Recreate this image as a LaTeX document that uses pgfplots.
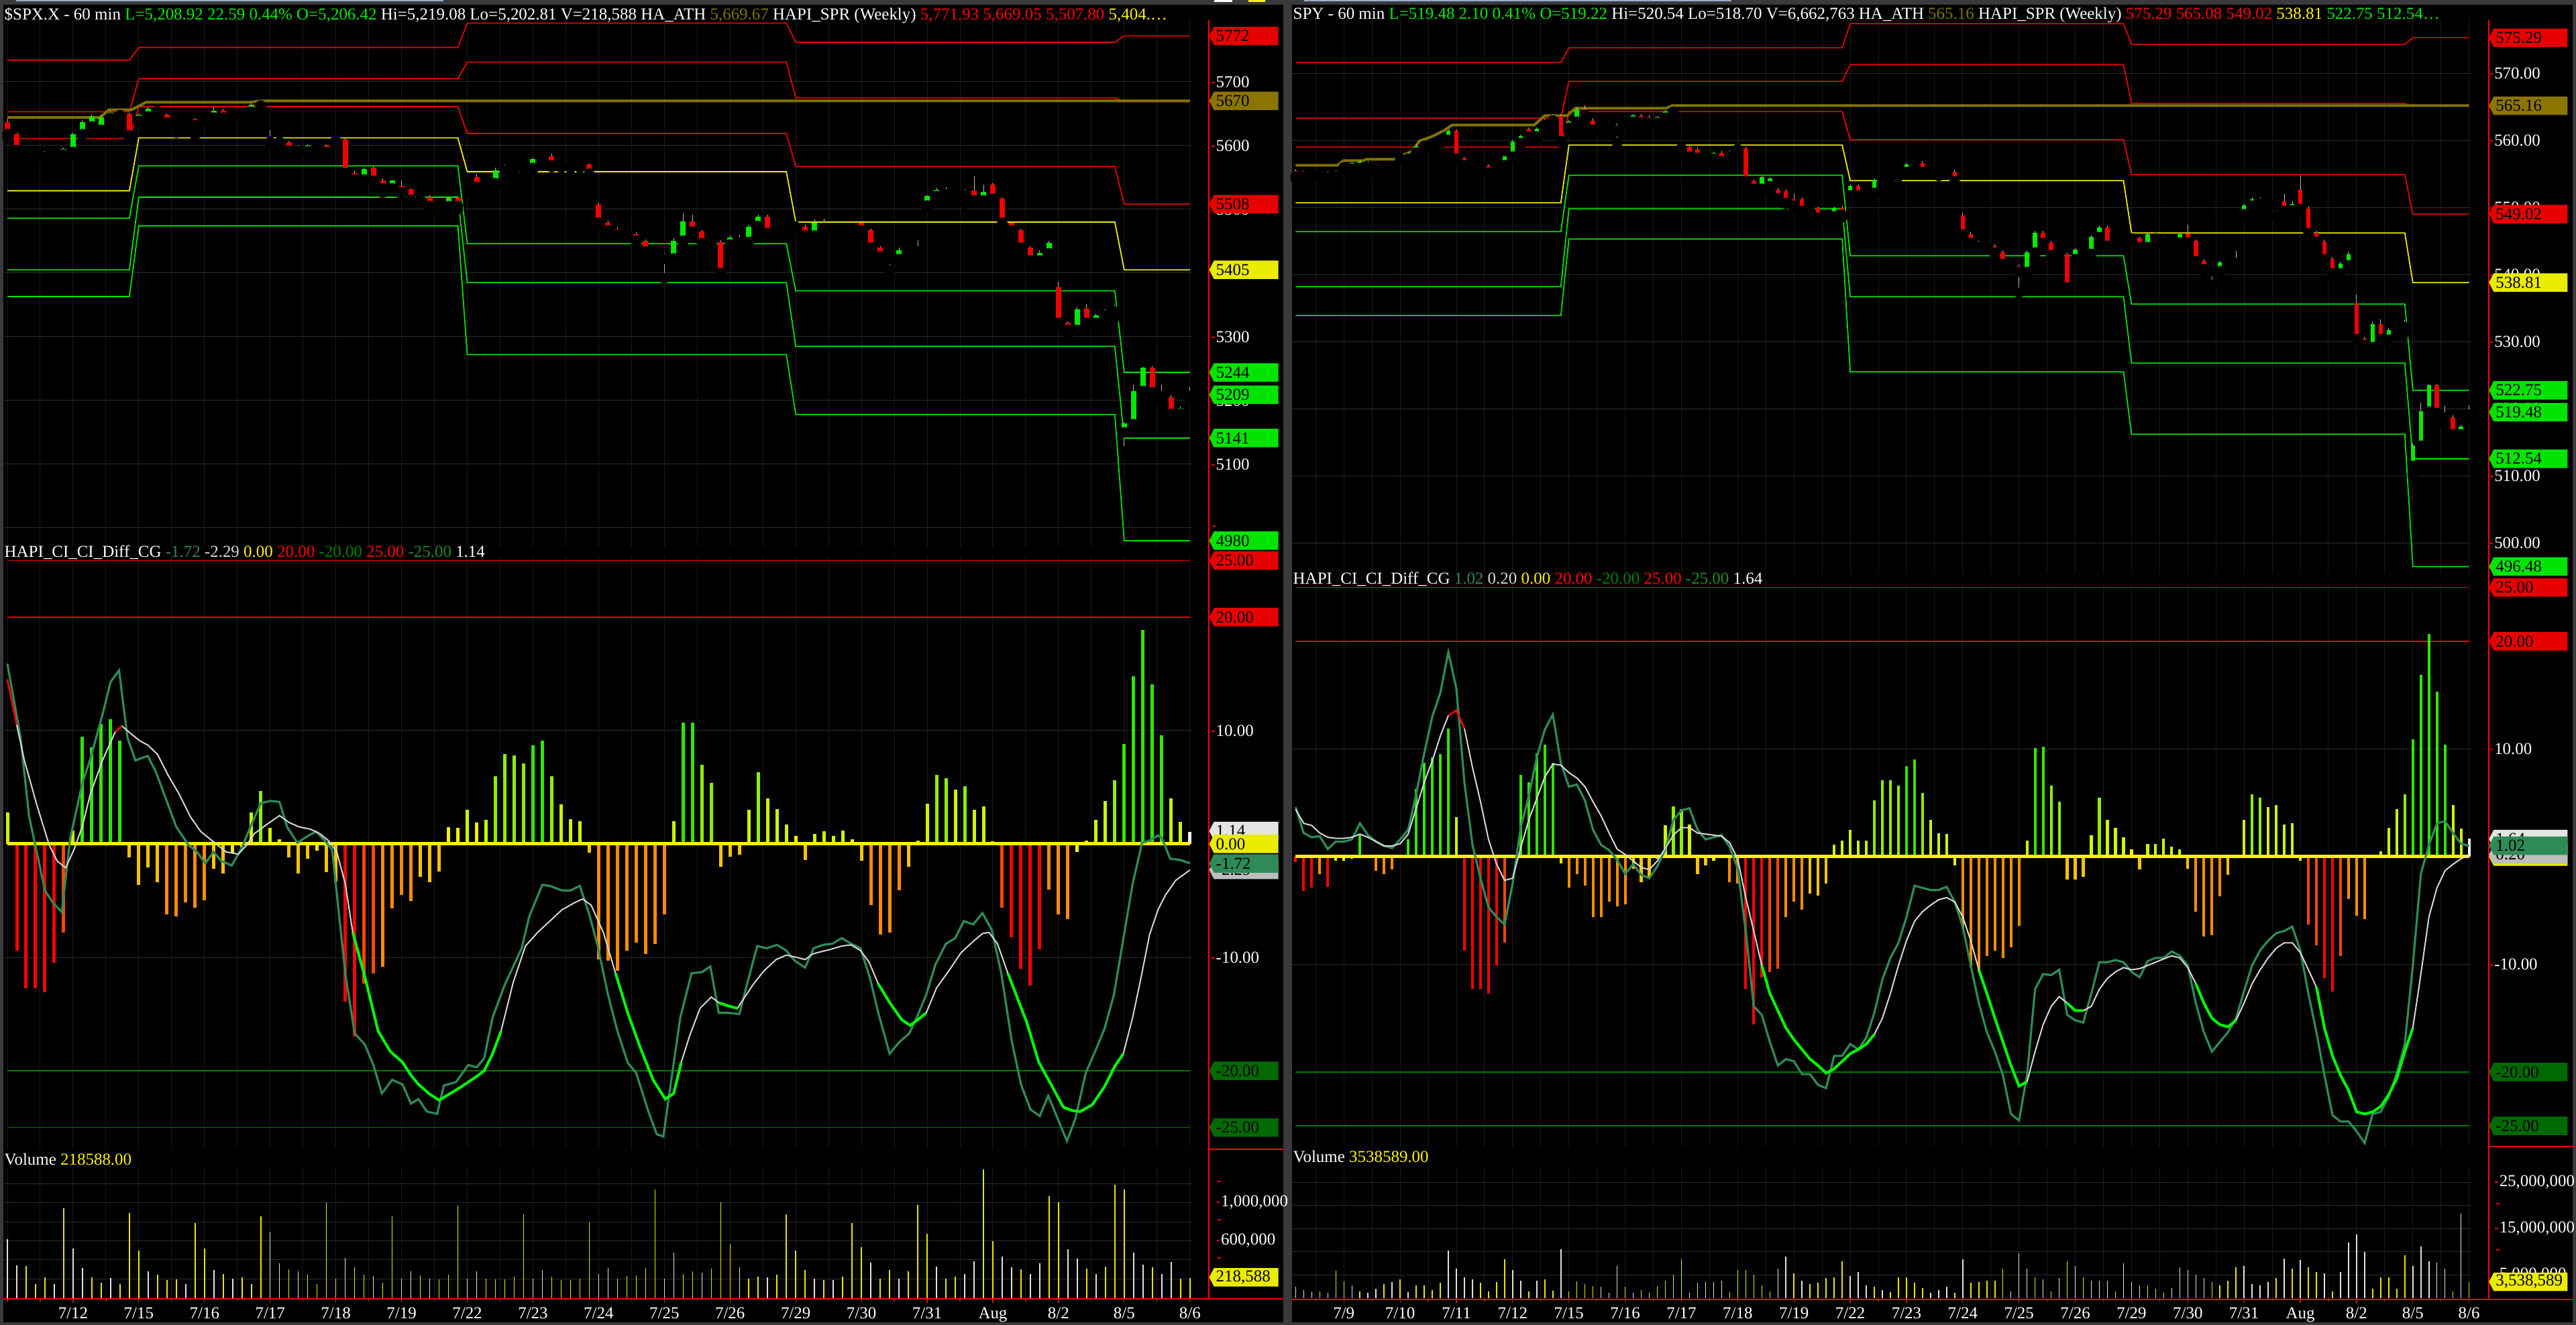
\documentclass[border=0pt]{standalone}
\usepackage{fontspec}
\setmainfont{Liberation Serif}
\usepackage{pgfplots}
\usepackage{pgfplotstable}
\pgfplotsset{compat=1.18}
\usetikzlibrary{shapes.symbols}

\definecolor{frame}{RGB}{58,58,60}
\definecolor{upc}{RGB}{0,235,0}
\definecolor{dnc}{RGB}{240,0,0}
\definecolor{wick}{RGB}{185,185,185}
\definecolor{olv}{RGB}{128,116,0}
\definecolor{olvbox}{RGB}{139,117,0}
\definecolor{lvred}{RGB}{230,0,0}
\definecolor{lvyel}{RGB}{235,235,0}
\definecolor{lvgrn}{RGB}{0,225,0}
\definecolor{ci}{RGB}{46,139,87}
\definecolor{cism}{RGB}{215,215,215}
\definecolor{hot}{RGB}{0,255,0}
\definecolor{h1}{RGB}{255,0,0}
\definecolor{h2}{RGB}{255,70,0}
\definecolor{h3}{RGB}{255,140,0}
\definecolor{h4}{RGB}{255,195,0}
\definecolor{h5}{RGB}{240,240,0}
\definecolor{h6}{RGB}{205,245,0}
\definecolor{h7}{RGB}{140,240,0}
\definecolor{h8}{RGB}{50,230,0}
\definecolor{h9}{RGB}{240,240,240}
\definecolor{vy}{RGB}{230,230,0}
\definecolor{vw}{RGB}{225,225,225}
\definecolor{gridc}{RGB}{44,44,44}
\definecolor{vgrid}{RGB}{26,26,26}
\definecolor{dkg}{RGB}{0,120,0}
\definecolor{boxdg}{RGB}{0,105,0}
\definecolor{boxgr}{RGB}{0,228,0}
\definecolor{boxwt}{RGB}{228,228,228}
\definecolor{boxgy}{RGB}{190,190,190}
\definecolor{txtg}{RGB}{0,235,0}
\definecolor{txtdg}{RGB}{0,128,0}
\definecolor{txtdg2}{RGB}{34,139,34}
\definecolor{scroll}{RGB}{150,175,205}

\newcommand\fs{\fontsize{7.1}{8}\selectfont}
\newcommand\dash{\llap{\textcolor{red}{\rule[0.55ex]{0.45mm}{0.2mm}}\hspace{0.2mm}}}

\pgfplotsset{
  /pgf/number format/assume math mode=true,
  pane/.style={scale only axis, anchor=south west, clip mode=individual,
    axis line style={draw=none}, xtick style={draw=none}, ytick style={draw=none},
    ticklabel style={font=\fs, text=white},
    yticklabel pos=right, yticklabel style={anchor=west, inner sep=0pt},
    xmajorgrids, ymajorgrids,
    x grid style={vgrid, line width=0.1mm}, y grid style={gridc, line width=0.1mm}},
  lvl/.style={line width=0.18mm, forget plot, mark=none},
}
\tikzset{
  lblL/.style={signal, signal to=west, signal pointer angle=125, fill=#1, draw=none,
    text=black, font=\fs, inner xsep=0.3mm, inner ysep=0mm, minimum height=2.75mm,
    text width=9.0mm, align=left, anchor=west},
  lblR/.style={lblL=#1, text width=10.4mm},
}

% candlesticks: wick from low to high, body from open to close
\newcommand\candles[3]{%
  \addplot[only marks, mark=none, forget plot, error bars/.cd, y dir=plus, y explicit,
    error mark=none, error bar style={draw=wick, line width=0.1mm}]
    table[x=i, y=l, y error expr=\thisrow{h}-\thisrow{l}] {#1};
  \addplot[only marks, mark=none, forget plot,
    restrict expr to domain={\thisrow{c}-\thisrow{o}}{0:1000000},
    error bars/.cd, y dir=plus, y explicit, error mark=none,
    error bar style={draw=upc, line width=#2}]
    table[x=i, y=o, y error expr={max(\thisrow{c}-\thisrow{o},#3)}] {#1};
  \addplot[only marks, mark=none, forget plot,
    restrict expr to domain={\thisrow{o}-\thisrow{c}}{0.00001:1000000},
    error bars/.cd, y dir=plus, y explicit, error mark=none,
    error bar style={draw=dnc, line width=#2}]
    table[x=i, y=c, y error expr={max(\thisrow{o}-\thisrow{c},#3)}] {#1};
}
\newcommand\histbar[4]{\addplot[ycomb, mark=none, forget plot, draw=#3, line width=#4,
  restrict expr to domain={\thisrow{k}}{#2:#2}] table[x=i, y=v] {#1};}
\newcommand\allhist[2]{%
  \histbar{#1}{1}{h1}{#2}\histbar{#1}{2}{h2}{#2}\histbar{#1}{3}{h3}{#2}
  \histbar{#1}{4}{h4}{#2}\histbar{#1}{5}{h5}{#2}\histbar{#1}{6}{h6}{#2}
  \histbar{#1}{7}{h7}{#2}\histbar{#1}{8}{h8}{#2}\histbar{#1}{9}{h9}{#2}}
\newcommand\vol[2]{%
  \addplot[ycomb, mark=none, forget plot, draw=vy, line width=#2,
    restrict expr to domain={\thisrow{w}}{0:0}] table[x=i, y=v] {#1};
  \addplot[ycomb, mark=none, forget plot, draw=vw, line width=#2,
    restrict expr to domain={\thisrow{w}}{1:1}] table[x=i, y=v] {#1};}
\newcommand\levels[1]{%
  \addplot[lvl, lvred] table[x=i, y=r3] {#1};
  \addplot[lvl, lvred] table[x=i, y=r2] {#1};
  \addplot[lvl, lvred] table[x=i, y=r1] {#1};
  \addplot[lvl, lvyel] table[x=i, y=p] {#1};
  \addplot[lvl, lvgrn] table[x=i, y=s1] {#1};
  \addplot[lvl, lvgrn] table[x=i, y=s2] {#1};
  \addplot[lvl, lvgrn] table[x=i, y=s3] {#1};}

% ---------------- SPX data ----------------
\pgfplotstableread{
i o h l c
0 5637 5642 5612 5618
1 5618 5620 5590 5593
2 5593 5597 5584 5590
3 5590 5593 5578 5589
4 5589 5591 5578 5582
5 5582 5589 5580 5586
6 5586 5597 5584 5595
7 5590 5620 5588 5618
8 5618 5640 5616 5637
9 5630 5648 5625 5645
10 5625 5648 5620 5644
11 5643 5655 5640 5651
12 5650 5653 5645 5648
13 5649 5652 5612 5616
14 5639 5650 5635 5648
15 5646 5660 5644 5658
16 5657 5660 5650 5654
17 5648 5650 5634 5636
18 5636 5640 5620 5638
19 5641 5643 5634 5637
20 5641 5643 5616 5632
21 5643 5647 5640 5645
22 5644 5660 5642 5655
23 5655 5658 5640 5644
24 5644 5647 5642 5646
25 5646 5653 5643 5651
26 5653 5666 5650 5664
27 5663 5670 5660 5668
28 5613 5624 5604 5606
29 5607 5610 5603 5606
30 5605 5607 5590 5592
31 5598 5600 5588 5591
32 5591 5602 5589 5600
33 5598 5606 5596 5603
34 5600 5602 5588 5590
35 5608 5616 5605 5610
36 5609 5612 5555 5557
37 5557 5560 5545 5547
38 5547 5565 5545 5563
39 5565 5567 5543 5545
40 5545 5548 5526 5533
41 5533 5546 5528 5545
42 5537 5545 5523 5527
43 5531 5533 5512 5515
44 5515 5521 5510 5520
45 5519 5522 5502 5505
46 5506 5510 5500 5505
47 5505 5519 5503 5518
48 5518 5520 5500 5505
49 5543 5552 5530 5550
50 5550 5556 5532 5535
51 5535 5543 5530 5541
52 5541 5565 5538 5561
53 5561 5570 5559 5566
54 5566 5568 5563 5565
55 5566 5570 5562 5565
56 5565 5581 5562 5579
57 5579 5587 5577 5585
58 5583 5587 5566 5569
59 5570 5573 5565 5567
60 5566 5572 5564 5571
61 5567 5573 5565 5571
62 5570 5572 5550 5556
63 5507 5510 5476 5479
64 5479 5482 5465 5467
65 5468 5472 5457 5460
66 5461 5466 5456 5462
67 5461 5464 5448 5451
68 5450 5453 5430 5434
69 5434 5436 5426 5428
70 5429 5432 5392 5422
71 5423 5455 5420 5450
72 5451 5494 5448 5481
73 5481 5492 5462 5465
74 5465 5467 5444 5447
75 5447 5452 5444 5450
76 5448 5452 5399 5400
77 5445 5459 5438 5456
78 5448 5460 5444 5455
79 5449 5476 5445 5473
80 5474 5492 5470 5488
81 5488 5491 5460 5463
82 5462 5466 5455 5465
83 5465 5467 5458 5460
84 5479 5482 5470 5473
85 5473 5476 5448 5459
86 5459 5484 5445 5479
87 5471 5485 5468 5479
88 5472 5475 5466 5467
89 5468 5476 5465 5473
90 5472 5475 5462 5467
91 5479 5482 5464 5467
92 5467 5469 5438 5440
93 5440 5442 5422 5426
94 5426 5428 5404 5422
95 5422 5440 5420 5436
96 5437 5442 5432 5434
97 5434 5452 5430 5438
98 5506 5522 5503 5521
99 5521 5534 5519 5530
100 5530 5535 5520 5523
101 5524 5527 5518 5525
102 5522 5531 5508 5528
103 5529 5553 5510 5514
104 5514 5539 5509 5527
105 5539 5541 5514 5517
106 5517 5519 5477 5479
107 5479 5481 5463 5467
108 5467 5469 5437 5440
109 5440 5442 5414 5420
110 5420 5436 5412 5432
111 5431 5450 5428 5447
112 5378 5386 5318 5322
113 5322 5324 5303 5311
114 5311 5346 5309 5343
115 5344 5352 5319 5322
116 5322 5336 5312 5334
117 5333 5343 5322 5340
118 5340 5350 5330 5347
119 5150 5166 5120 5164
120 5163 5225 5150 5215
121 5215 5253 5205 5252
122 5252 5254 5200 5213
123 5213 5225 5197 5207
124 5205 5208 5167 5179
125 5179 5190 5165 5187
126 5207 5221 5203 5209
}\spxc

\pgfplotstableread{
i r3 r2 r1 p s1 s2 s3
0 5734 5653 5611 5529 5486 5405 5363
13 5734 5653 5611 5529 5486 5405 5363
14 5754 5705 5661 5612 5568 5519 5474
48 5754 5705 5661 5612 5568 5519 5474
49 5792 5731 5619 5559 5446 5385 5272
83 5792 5731 5619 5559 5446 5385 5272
84 5762 5675 5567 5480 5372 5285 5178
118 5762 5675 5567 5480 5372 5285 5178
119 5772 5669 5508 5405 5244 5141 4980
126 5772 5669 5508 5405 5244 5141 4980
}\spxlv

\pgfplotstableread{
i v
0 5644
9.9 5644
10.8 5656
13.2 5656
14.8 5668
25.9 5668
26.9 5670
126 5670
}\spxath

\pgfplotstableread{
i v k
0 2.8 6
1 -9.4 1
2 -12.7 1
3 -12.7 1
4 -13.1 1
5 -10.5 1
6 -7.8 2
7 1.2 6
8 9.45 8
9 8.5 8
10 10.6 8
11 11.0 8
12 9.1 8
13 -1.2 4
14 -3.6 4
15 -2.1 4
16 -3.4 4
17 -6.2 3
18 -6.4 3
19 -5.15 3
20 -5.6 3
21 -5.0 3
22 -2.2 4
23 -2.6 4
24 -0.8 5
25 -0.3 5
26 2.8 6
27 4.7 7
28 1.4 6
29 0.4 5
30 -1.2 4
31 -2.6 4
32 -1.3 4
33 -0.6 5
34 -2.5 4
35 -3.3 4
36 -13.9 1
37 -17.0 1
38 -12.3 2
39 -11.4 2
40 -10.8 3
41 -5.7 3
42 -4.5 3
43 -5.05 3
44 -2.9 4
45 -3.4 4
46 -2.4 4
47 1.5 5
48 1.4 5
49 3.0 6
50 1.9 5
51 2.1 6
52 6.0 7
53 7.9 7
54 7.8 7
55 7.1 7
56 8.7 8
57 9.1 8
58 6.0 7
59 3.5 6
60 2.2 6
61 2.0 6
62 -0.75 4
63 -10.2 3
64 -10.3 3
65 -11.2 3
66 -9.4 3
67 -8.7 3
68 -9.7 3
69 -8.8 3
70 -6.2 3
71 2.0 6
72 10.7 8
73 10.7 8
74 7.0 7
75 5.4 7
76 -2.0 4
77 -1.1 4
78 -0.95 4
79 3.0 6
80 6.3 7
81 4.0 6
82 3.1 6
83 1.7 6
84 0.7 5
85 -1.4 4
86 0.9 6
87 1.1 6
88 0.7 6
89 1.2 6
90 0.4 5
91 -1.5 4
92 -5.4 3
93 -8.0 3
94 -7.8 3
95 -4.1 3
96 -2.0 4
97 0.3 5
98 3.55 6
99 6.1 7
100 5.8 7
101 4.8 6
102 5.1 7
103 3.0 6
104 3.3 6
105 0.26 5
106 -5.6 2
107 -8.2 1
108 -11.0 1
109 -12.5 1
110 -9.3 1
111 -4.0 3
112 -6.2 3
113 -6.6 3
114 -0.7 5
115 0.3 5
116 2.1 6
117 3.8 6
118 5.6 7
119 8.8 8
120 14.8 8
121 18.9 8
122 14.1 8
123 9.6 8
124 4.0 6
125 1.95 6
126 1.06 9
}\spxh

\pgfplotstableread{
i v
0 15.9
1.4 9.4
2.3 2.5
3.2 -1.0
4.0 -4.1
4.9 -5.25
5.8 -6.0
6.7 0.5
8.0 5.4
8.8 7.4
10.1 11.3
11.0 14.3
11.9 15.3
12.8 9.35
13.65 7.36
14.26 7.56
14.96 7.76
15.8 6.4
17.15 3.4
18.0 1.5
19.3 -0.1
20.2 -0.7
21.1 -1.7
21.96 -0.7
22.8 -1.5
23.9 -1.9
25.0 -0.3
25.9 1.5
27.0 3.6
28.1 3.8
29.0 3.7
29.8 1.5
30.9 0.1
32.0 0.7
32.9 1.1
33.8 0.3
34.6 -0.5
36.0 -11.4
37.0 -16.7
38.1 -17.7
39.0 -19.5
39.9 -22.0
41.0 -20.8
42.1 -21.2
43.0 -22.9
43.8 -22.5
44.7 -23.6
45.8 -23.8
46.5 -21.3
47.8 -21.0
49.1 -19.5
50.0 -19.7
50.8 -18.9
51.7 -15.3
53.0 -12.4
54.8 -9.2
55.6 -6.4
57.0 -3.6
57.8 -3.7
59.1 -4.1
60.0 -4.1
61.0 -3.7
62.0 -6.2
62.9 -9.0
64.0 -13.3
65.0 -16.5
66.1 -19.3
67.0 -20.2
68.3 -23.6
69.2 -25.6
69.9 -25.8
70.5 -22.2
71.7 -15.3
72.9 -11.4
74.0 -11.3
74.9 -10.8
75.8 -14.9
76.9 -14.9
78.0 -15.0
78.8 -12.4
79.9 -9.0
80.9 -9.2
82.0 -8.9
83.0 -9.4
83.9 -10.3
85.0 -10.9
85.9 -9.2
86.9 -8.9
87.9 -8.8
88.9 -8.3
89.9 -8.8
90.9 -9.2
91.9 -11.8
92.8 -14.9
94.0 -18.5
95.0 -17.5
96.1 -16.7
96.9 -15.3
97.9 -13.3
98.9 -10.6
100.0 -8.8
101.0 -8.3
101.9 -6.8
102.9 -7.1
103.9 -6.1
104.9 -7.6
105.9 -11.4
107.0 -17.3
108.0 -21.2
109.0 -23.4
110.0 -24.0
110.9 -22.2
111.9 -24.2
112.9 -26.2
113.8 -24.2
114.9 -20.2
115.9 -18.3
116.9 -16.3
117.9 -13.3
118.9 -8.4
119.9 -3.5
120.9 0.1
121.7 0.3
122.6 0.75
123.0 0.55
123.9 -1.3
124.9 -1.4
126.0 -1.7
}\spxci

\pgfplotstableread{
i v
0 14.5
1.0 10.5
1.8 7.4
3.15 3.4
4.46 -0.1
5.3 -1.5
6.2 -2.1
7.1 -0.5
7.96 1.5
8.84 4.4
10.15 7.4
11.5 9.9
12.2 10.4
13.2 9.7
14.1 9.1
15.0 8.7
16.0 7.9
17.1 6.1
18.3 4.4
19.5 2.4
20.6 1.1
22.1 0.1
23.3 -0.7
24.6 -0.9
25.5 -0.1
26.3 0.9
27.6 1.7
29.0 2.5
30.0 1.9
31.1 1.5
32.3 1.3
33.3 0.9
34.2 0.3
35.1 -0.7
36.0 -3.5
36.8 -7.8
38.1 -11.75
39.5 -16.5
40.8 -18.3
42.1 -19.25
43.0 -20.4
43.8 -21.2
44.9 -22.0
46.0 -22.6
47.2 -22.0
48.2 -21.5
49.1 -21.0
50.0 -20.5
50.8 -20.0
51.7 -18.5
52.6 -16.5
53.9 -12.2
55.2 -9.0
56.5 -7.8
57.8 -6.8
59.1 -5.8
60.5 -5.15
61.3 -4.85
62.2 -5.4
63.5 -7.8
64.8 -11.4
66.1 -14.9
67.5 -18.1
68.8 -20.8
70.1 -22.5
71.0 -22.0
71.8 -19.25
72.7 -16.9
73.8 -14.5
75.0 -13.5
75.8 -14.0
76.9 -14.3
77.8 -14.5
78.4 -13.7
79.5 -12.35
80.6 -11.2
81.9 -10.2
83.0 -9.8
84.1 -10.0
85.0 -10.2
85.8 -9.7
86.7 -9.5
87.7 -9.3
88.9 -9.0
89.9 -8.9
90.9 -9.4
91.8 -10.4
92.8 -12.35
94.1 -14.1
95.3 -15.5
96.2 -16.0
97.0 -15.5
97.9 -14.9
99.0 -12.7
100.3 -11.2
101.6 -9.6
102.9 -8.6
103.9 -7.9
104.6 -7.8
105.5 -8.8
106.6 -11.4
108.6 -15.7
109.9 -19.25
111.2 -21.2
112.5 -23.2
113.4 -23.5
114.3 -23.6
115.6 -23.0
116.9 -21.4
118.0 -19.6
118.9 -18.5
119.9 -15.3
120.8 -11.75
121.7 -8.0
122.6 -5.8
123.4 -4.5
124.5 -3.2
126.0 -2.3
}\spxsm

% volume in thousands, w: 0 yellow, 1 white
\pgfplotstableread{
i v w
0 616 1
1 347 1
2 340 0
3 150 0
4 218 0
5 150 1
6 937 0
7 516 1
8 313 1
9 218 0
10 160 0
11 214 1
12 150 0
13 888 0
14 496 0
15 278 1
16 243 0
17 189 0
18 196 0
19 150 1
20 784 0
21 522 0
22 294 1
23 252 0
24 205 1
25 218 0
26 150 0
27 857 0
28 698 1
29 364 1
30 301 0
31 284 1
32 243 0
33 150 0
34 995 0
35 200 0
36 418 1
37 322 0
38 243 0
39 231 1
40 160 0
41 855 0
42 200 1
43 284 1
44 238 0
45 201 1
46 196 0
47 243 0
48 967 0
49 200 1
50 284 1
51 205 0
52 196 0
53 196 0
54 227 0
55 880 0
56 200 1
57 294 1
58 227 0
59 192 0
60 192 0
61 205 0
62 791 0
63 250 1
64 317 1
65 200 0
66 231 0
67 238 0
68 315 0
69 1135 0
70 200 1
71 480 1
72 250 0
73 278 0
74 266 1
75 308 0
76 1001 0
77 565 0
78 322 1
79 200 0
80 224 0
81 219 1
82 243 0
83 878 0
84 496 0
85 294 0
86 200 1
87 189 0
88 192 1
89 224 0
90 784 0
91 534 0
92 371 1
93 200 0
94 294 0
95 200 1
96 278 0
97 972 0
98 675 0
99 331 1
100 200 0
101 224 0
102 250 1
103 383 1
104 1350 0
105 594 0
106 434 1
107 324 1
108 301 0
109 250 1
110 364 1
111 1065 0
112 1006 0
113 511 1
114 411 1
115 308 0
116 250 1
117 331 0
118 1189 0
119 1140 0
120 475 1
121 354 1
122 320 0
123 250 1
124 378 1
125 200 0
126 214 0
}\spxv

% ---------------- SPY data ----------------
\pgfplotstableread{
i o h l c
0 555.4 555.7 554.3 554.6
1 555.2 555.5 554.4 554.6
2 554.6 555.2 554.4 555.0
3 554.8 555.3 554.6 555.2
4 555.2 555.4 554.4 554.5
5 554.6 555.5 554.5 555.3
6 556.0 556.5 555.8 556.3
7 555.8 556.8 555.6 556.6
8 555.9 557.1 555.7 556.8
9 556.7 556.9 555.8 556.0
10 555.6 556.4 555.1 556.3
11 556.0 556.3 555.7 556.1
12 556.1 556.4 555.9 556.2
13 557.3 557.8 557.0 557.6
14 557.3 558.2 557.2 557.9
15 558.2 559.4 558.0 559.1
16 559.2 559.8 559.1 559.6
17 559.3 560.0 559.1 559.9
18 559.8 560.3 559.6 560.1
19 560.1 561.6 559.8 561.4
20 561.4 561.6 557.1 557.3
21 557.3 557.5 556.2 556.3
22 556.5 556.8 556.1 556.4
23 556.4 556.6 555.5 556.2
24 556.2 556.4 555.0 555.2
25 555.6 555.9 555.1 555.4
26 556.3 557.6 556.0 557.6
27 557.6 560.0 557.4 559.8
28 559.6 560.8 559.3 560.6
29 561.7 561.9 560.4 560.6
30 560.6 561.9 560.2 561.7
31 562.3 563.2 562.0 562.9
32 563.0 563.9 562.8 563.6
33 563.6 563.9 559.7 559.9
34 561.9 563.0 561.5 562.8
35 562.8 564.9 562.6 564.6
36 564.6 565.2 563.6 563.8
37 562.9 563.3 561.4 561.6
38 562.1 562.4 561.5 561.7
39 561.9 562.7 561.6 562.4
40 562.1 562.5 559.6 561.4
41 562.7 563.0 562.4 562.9
42 562.8 563.9 562.6 563.7
43 563.6 563.9 562.5 562.7
44 563.4 563.7 562.4 562.6
45 562.6 563.6 562.3 563.4
46 563.4 564.5 563.2 564.3
47 564.3 565.2 564.1 564.9
48 559.3 559.6 558.6 558.9
49 559.0 559.3 557.4 557.6
50 558.6 558.9 556.5 557.4
51 558.0 558.3 557.4 557.6
52 557.3 558.3 556.8 558.1
53 558.1 558.4 556.7 556.9
54 557.6 558.5 557.3 558.3
55 558.7 559.5 558.4 558.9
56 558.8 559.0 553.8 553.9
57 553.9 554.1 552.5 552.8
58 552.8 554.7 552.5 554.5
59 553.2 554.5 552.8 554.3
60 552.6 552.9 551.2 551.4
61 552.4 552.7 550.5 550.7
62 551.2 552.0 550.0 550.3
63 551.2 551.5 549.3 549.5
64 549.6 550.0 549.2 549.8
65 549.9 550.1 548.2 548.5
66 548.6 549.0 548.3 548.7
67 548.7 550.1 548.4 549.9
68 549.9 550.2 548.5 548.9
69 551.8 553.4 551.5 553.2
70 553.2 553.4 551.6 551.8
71 551.8 552.4 551.3 552.2
72 552.2 554.3 552.0 554.1
73 554.1 554.8 553.9 554.6
74 554.5 555.0 554.3 554.8
75 554.8 555.3 554.6 555.0
76 555.3 556.6 555.0 556.4
77 556.1 556.9 555.8 556.6
78 556.6 556.9 555.1 555.3
79 555.4 555.7 555.0 555.2
80 554.9 555.6 554.7 555.4
81 555.1 555.5 554.9 555.3
82 555.3 555.6 553.5 553.9
83 548.8 549.2 545.8 546.0
84 546.0 546.3 544.5 544.7
85 544.7 545.0 543.9 544.1
86 544.1 544.6 543.8 544.2
87 544.2 544.5 543.1 543.3
88 543.3 543.6 541.4 541.6
89 541.6 541.9 541.0 541.2
90 541.2 541.5 537.3 540.4
91 540.4 543.6 540.1 543.3
92 543.3 546.5 543.0 546.2
93 546.2 546.5 544.5 544.7
94 544.7 545.0 542.7 542.9
95 542.9 543.6 542.6 543.1
96 543.0 543.2 538.0 538.1
97 542.3 543.9 541.9 543.7
98 543.5 543.9 543.1 543.7
99 543.1 545.8 542.0 545.6
100 545.6 547.3 545.3 547.0
101 547.0 547.3 544.1 544.3
102 544.3 545.0 543.9 544.8
103 544.8 545.1 543.7 544.5
104 546.0 546.3 545.2 545.4
105 545.4 545.6 543.9 544.1
106 544.1 546.3 542.6 546.0
107 545.4 546.3 545.1 546.1
108 545.4 545.7 544.7 544.9
109 544.9 545.6 544.6 545.4
110 544.8 546.2 544.5 546.0
111 546.1 547.4 544.6 544.8
112 545.0 545.2 541.8 542.0
113 542.0 542.3 540.6 540.8
114 540.8 541.1 538.5 540.5
115 540.5 542.0 540.2 541.8
116 541.6 542.1 541.4 541.9
117 541.7 543.5 541.5 541.9
118 549.0 550.5 548.7 550.3
119 550.3 551.5 550.0 551.2
120 551.2 551.5 550.4 550.6
121 550.5 550.8 550.2 550.6
122 550.3 551.0 548.7 550.9
123 550.9 552.0 548.7 549.5
124 549.6 550.9 549.3 550.5
125 552.6 554.8 549.6 549.8
126 549.8 550.1 546.0 546.2
127 546.2 546.5 544.7 544.9
128 544.9 545.2 542.1 542.3
129 542.3 542.6 539.9 540.2
130 540.2 541.9 539.8 541.6
131 541.4 543.4 541.2 543.0
132 535.7 537.0 530.2 530.4
133 530.4 530.7 529.3 529.5
134 529.2 533.0 529.0 532.6
135 532.6 533.3 530.1 530.4
136 530.3 532.0 529.6 531.7
137 531.7 532.5 531.4 532.2
138 532.2 533.2 531.3 532.9
139 511.5 514.8 510.1 514.5
140 514.5 520.9 514.0 519.6
141 519.6 523.7 519.3 523.5
142 523.5 523.7 518.9 519.4
143 519.4 520.4 517.8 518.7
144 518.7 519.0 515.3 516.2
145 516.2 517.6 515.0 517.3
146 519.1 520.5 518.7 519.5
}\spyc

\pgfplotstableread{
i r3 r2 r1 p s1 s2 s3
0 571.6 563.3 559.0 550.7 546.4 538.2 533.9
33 571.6 563.3 559.0 550.7 546.4 538.2 533.9
34 573.8 568.8 564.3 559.3 554.8 549.8 545.3
68 573.8 568.8 564.3 559.3 554.8 549.8 545.3
69 577.4 571.3 560.1 554.0 542.8 536.7 525.5
103 577.4 571.3 560.1 554.0 542.8 536.7 525.5
104 574.3 565.5 554.9 546.2 535.6 526.8 516.2
138 574.3 565.5 554.9 546.2 535.6 526.8 516.2
139 575.3 565.1 549.0 538.8 522.75 512.54 496.48
146 575.3 565.1 549.0 538.8 522.75 512.54 496.48
}\spylv

\pgfplotstableread{
i v
0 556.3
5.2 556.3
6.0 557.0
8.5 557.0
8.8 557.2
12.3 557.2
13.0 557.6
14.5 558.4
15.4 559.9
17.0 560.6
18.5 561.5
19.5 562.3
29.7 562.3
31.0 563.7
33.8 563.7
34.8 564.8
46.1 564.8
46.9 565.2
146 565.2
}\spyath

\pgfplotstableread{
i v k
0 -0.5 1
1 -3.2 1
2 -2.9 1
3 -1.6 3
4 -2.8 1
5 -0.4 5
6 -0.4 5
7 -0.2 5
8 2.0 8
9 0.1 5
10 -1.3 3
11 -1.6 3
12 -1.2 3
13 -0.1 5
14 1.6 8
15 6.3 8
16 8.7 8
17 9.2 8
18 9.5 8
19 11.9 8
20 3.7 6
21 -8.7 1
22 -12.3 1
23 -12.3 1
24 -12.7 1
25 -10.1 1
26 -8.0 2
27 -0.1 5
28 7.6 8
29 6.9 8
30 9.6 8
31 10.4 8
32 8.7 8
33 -0.6 5
34 -2.9 3
35 -1.6 3
36 -2.7 3
37 -5.6 3
38 -5.6 3
39 -4.2 3
40 -4.6 3
41 -4.4 3
42 -1.1 4
43 -2.4 4
44 -2.0 4
45 -0.2 5
46 2.9 6
47 4.7 7
48 4.4 7
49 3.0 6
50 -1.6 4
51 -0.8 4
52 -0.4 5
53 -0.1 5
54 -2.4 3
55 -2.5 3
56 -12.3 1
57 -15.6 1
58 -11.2 1
59 -10.7 2
60 -10.4 2
61 -5.6 3
62 -4.2 3
63 -4.9 3
64 -3.4 4
65 -3.6 4
66 -2.5 4
67 1.1 6
68 1.5 6
69 2.5 6
70 1.5 6
71 1.5 6
72 5.2 7
73 7.1 7
74 7.1 7
75 6.6 7
76 8.4 8
77 9.0 8
78 5.9 7
79 3.4 6
80 2.2 6
81 2.1 6
82 -0.8 5
83 -6.7 3
84 -10.3 3
85 -10.7 3
86 -9.2 3
87 -8.7 3
88 -9.4 3
89 -8.4 3
90 -6.4 3
91 1.5 6
92 10.1 8
93 10.2 8
94 6.6 7
95 5.1 7
96 -2.1 4
97 -2.1 4
98 -1.9 4
99 2.0 6
100 5.5 7
101 3.4 6
102 2.7 6
103 1.8 6
104 0.7 5
105 -1.2 4
106 1.2 6
107 1.2 6
108 1.7 6
109 0.9 6
110 0.7 6
111 -1.1 4
112 -5.1 3
113 -7.4 3
114 -7.3 3
115 -3.7 3
116 -1.7 4
117 0.2 5
118 3.4 6
119 5.8 7
120 5.5 7
121 4.6 6
122 4.8 6
123 3.0 6
124 3.1 6
125 -0.4 5
126 -6.3 2
127 -8.2 2
128 -11.3 1
129 -12.5 1
130 -9.2 2
131 -3.9 3
132 -5.5 3
133 -5.8 3
134 -0.1 5
135 0.5 6
136 2.7 6
137 4.4 6
138 5.8 7
139 10.9 8
140 16.9 8
141 20.7 8
142 15.3 8
143 10.4 8
144 4.8 6
145 2.6 6
146 1.7 9
}\spyh

\pgfplotstableread{
i ci sm
0 4.6 4.4
1 2.2 3.1
2 1.8 2.9
3 1.9 2.2
4 0.7 1.8
5 1.4 1.7
6 1.4 1.7
7 1.6 1.8
8 3.1 2.1
9 2.0 1.8
10 1.4 1.4
11 1.0 1.0
12 0.8 1.0
13 1.6 1.2
14 2.5 2.1
15 5.8 4.5
16 9.6 6.9
17 13.0 8.9
18 15.2 11.2
19 19.0 13.1
20 15.6 13.6
21 6.9 11.9
22 1.1 8.3
23 -2.0 5.1
24 -4.7 1.6
25 -5.6 -0.7
26 -6.3 -2.2
27 -2.5 -2.0
28 2.7 0.8
29 5.6 3.4
30 9.2 5.4
31 11.8 7.4
32 13.2 8.6
33 8.7 8.5
34 6.5 7.8
35 6.7 7.3
36 5.2 6.5
37 2.5 5.1
38 1.1 3.8
39 0.6 2.2
40 -0.3 0.7
41 -1.6 0.2
42 -0.7 -0.4
43 -1.7 -1.0
44 -2.0 -1.2
45 -0.9 -0.4
46 0.7 0.8
47 3.4 2.0
48 4.3 2.7
49 4.5 2.7
50 2.5 2.2
51 1.6 2.1
52 1.8 2.0
53 2.0 1.9
54 0.9 1.3
55 -1.1 -0.2
56 -6.9 -3.8
57 -13.9 -6.9
58 -14.7 -10.1
59 -17.2 -12.7
60 -19.4 -14.3
61 -18.8 -15.9
62 -19.0 -17.0
63 -20.2 -17.9
64 -20.2 -18.8
65 -21.2 -19.4
66 -21.5 -20.1
67 -18.5 -19.7
68 -18.5 -19.0
69 -17.4 -18.3
70 -17.9 -17.9
71 -16.8 -17.4
72 -14.5 -16.5
73 -11.4 -15.0
74 -9.4 -12.7
75 -8.0 -10.1
76 -5.6 -7.8
77 -2.7 -6.0
78 -2.9 -5.1
79 -3.1 -4.5
80 -3.1 -4.0
81 -2.8 -3.8
82 -4.2 -4.2
83 -6.5 -5.6
84 -10.1 -7.8
85 -13.6 -10.5
86 -16.3 -12.7
87 -18.1 -15.0
88 -20.3 -17.2
89 -23.9 -19.4
90 -24.5 -21.3
91 -20.3 -20.9
92 -12.3 -18.1
93 -10.9 -15.6
94 -11.0 -13.9
95 -10.5 -13.0
96 -14.7 -13.6
97 -15.2 -14.3
98 -15.4 -14.3
99 -12.7 -13.9
100 -9.8 -12.3
101 -9.8 -11.3
102 -9.6 -10.7
103 -9.8 -10.3
104 -10.7 -10.5
105 -11.2 -10.4
106 -9.7 -10.1
107 -9.4 -9.8
108 -9.4 -9.5
109 -8.8 -9.2
110 -9.2 -9.4
111 -10.1 -10.3
112 -13.6 -11.8
113 -16.3 -13.6
114 -18.1 -15.0
115 -17.2 -15.6
116 -16.3 -15.8
117 -15.0 -15.2
118 -12.5 -13.6
119 -10.1 -11.8
120 -8.7 -10.5
121 -7.8 -9.4
122 -7.1 -8.5
123 -6.9 -8.0
124 -6.5 -8.0
125 -8.7 -8.9
126 -12.7 -10.5
127 -16.3 -12.1
128 -20.3 -15.9
129 -24.0 -18.5
130 -24.6 -20.3
131 -24.6 -21.7
132 -25.5 -23.7
133 -26.6 -23.9
134 -23.9 -23.7
135 -23.7 -23.2
136 -22.3 -22.1
137 -20.1 -20.6
138 -17.4 -18.1
139 -10.1 -15.9
140 -1.6 -10.9
141 1.1 -5.6
142 3.1 -2.9
143 3.3 -1.3
144 2.2 -0.7
145 1.2 -0.2
146 1.0 0.2
}\spyl

% volume in millions, w: 0 yellow, 1 white
\pgfplotstableread{
i v w
0 2.4 1
1 1.7 1
2 1.5 1
3 1.5 0
4 1.2 1
5 5.9 0
6 3.6 0
7 2.8 1
8 1.5 0
9 1.2 1
10 2.0 1
11 3.0 0
12 3.5 1
13 4.1 0
14 1.3 1
15 2.8 0
16 2.8 0
17 1.7 0
18 3.3 0
19 10.3 1
20 6.4 1
21 4.5 1
22 4.0 1
23 3.3 0
24 1.5 0
25 3.5 0
26 8.4 0
27 6.1 1
28 3.8 1
29 1.5 0
30 3.8 1
31 4.0 0
32 1.6 0
33 10.6 1
34 1.5 0
35 3.6 0
36 3.1 0
37 2.6 0
38 2.5 1
39 1.2 1
40 6.9 1
41 2.5 0
42 1.2 1
43 1.7 0
44 1.2 0
45 2.6 0
46 3.8 0
47 5.1 0
48 8.4 0
49 1.2 1
50 3.3 0
51 3.5 1
52 3.5 1
53 3.8 1
54 1.3 0
55 6.1 0
56 6.1 0
57 5.1 0
58 2.8 0
59 1.5 0
60 6.4 1
61 9.0 1
62 5.3 0
63 3.8 1
64 3.1 0
65 3.3 0
66 4.3 0
67 4.5 0
68 8.0 0
69 4.8 1
70 5.6 1
71 2.8 1
72 2.4 0
73 1.7 1
74 1.3 0
75 4.5 0
76 4.5 0
77 3.3 0
78 2.2 0
79 1.2 1
80 1.7 1
81 2.4 1
82 1.2 0
83 8.4 1
84 3.3 0
85 3.5 0
86 3.8 0
87 3.8 0
88 6.4 0
89 1.5 1
90 9.7 1
91 6.4 1
92 4.5 0
93 4.1 1
94 1.5 0
95 4.3 1
96 7.9 0
97 6.9 1
98 4.5 0
99 3.8 1
100 3.8 1
101 3.8 1
102 1.5 0
103 7.6 1
104 3.5 1
105 2.8 1
106 2.8 0
107 2.0 0
108 1.2 0
109 2.2 1
110 6.6 1
111 6.1 1
112 5.0 1
113 4.3 1
114 3.5 0
115 2.8 0
116 3.8 0
117 6.6 0
118 6.9 1
119 3.1 1
120 2.8 1
121 3.5 1
122 4.3 0
123 8.5 1
124 6.4 0
125 8.3 1
126 6.6 0
127 5.6 0
128 5.3 1
129 1.5 0
130 5.6 1
131 12.1 1
132 13.7 1
133 10.0 1
134 2.0 0
135 4.5 0
136 4.5 0
137 2.0 0
138 9.3 0
139 7.0 1
140 11.1 1
141 8.0 1
142 7.7 1
143 6.4 1
144 1.5 0
145 18.3 1
146 3.5 0
}\spyv

\begin{document}
\begin{tikzpicture}
\useasboundingbox (0,0) rectangle (384mm,197.5mm);
\fill[frame] (0,0) rectangle (384mm,197.5mm);
\fill[black] (0.5mm,0.4mm) rectangle (191.3mm,196.8mm);
\fill[black] (192.6mm,0.4mm) rectangle (383.5mm,196.8mm);
\fill[scroll] (2.4mm,197.25mm) rectangle (66.1mm,197.5mm);
\fill[scroll] (194.4mm,197.25mm) rectangle (258.1mm,197.5mm);
\fill[white] (181.0mm,197.2mm) rectangle (183.7mm,197.5mm);
\fill[yellow] (186.1mm,197.2mm) rectangle (188.6mm,197.5mm);

% ================= LEFT: SPX =================
\begin{axis}[pane, at={(0.5mm,116mm)}, width=177.1mm, height=78.7mm,
  xmin=-0.43, xmax=126.16, ymin=4970.5, ymax=5798.9,
  xtick={0,3.5,...,126}, xticklabels={},
  ytick={5100,5200,...,5700}, extra y ticks={5000}, extra y tick labels={\dash},
  yticklabel={\dash\pgfmathprintnumber[1000 sep={},fixed,precision=0]{\tick}},
  yticklabel style={xshift=3.6mm}]
\levels{\spxlv}
\addplot[olv, line width=0.4mm, mark=none, forget plot] table[x=i, y=v] {\spxath};
\candles{\spxc}{0.8mm}{1.5}
\coordinate (a1) at (axis cs:128.0,5772);
\coordinate (a2) at (axis cs:128.0,5670);
\coordinate (a3) at (axis cs:128.0,5508);
\coordinate (a4) at (axis cs:128.0,5405);
\coordinate (a5) at (axis cs:128.0,5244);
\coordinate (a6) at (axis cs:128.0,5209);
\coordinate (a7) at (axis cs:128.0,5141);
\coordinate (a8) at (axis cs:128.0,4980);
\end{axis}

\begin{axis}[pane, at={(0.5mm,26.3mm)}, width=177.1mm, height=88.4mm,
  xmin=-0.43, xmax=126.16, ymin=-26.86, ymax=25.44,
  xtick={0,3.5,...,126}, xticklabels={},
  ytick={-10,10},
  yticklabel={\dash\pgfmathprintnumber[fixed,zerofill,precision=2]{\tick}},
  yticklabel style={xshift=3.6mm}]
\addplot[lvred, line width=0.15mm, forget plot] coordinates {(0,25) (126,25)};
\addplot[lvred, line width=0.15mm, forget plot] coordinates {(0,20) (126,20)};
\addplot[dkg, line width=0.15mm, forget plot] coordinates {(0,-20) (126,-20)};
\addplot[dkg, line width=0.15mm, forget plot] coordinates {(0,-25) (126,-25)};
\allhist{\spxh}{0.5mm}
\addplot[yellow, line width=0.5mm, forget plot] coordinates {(0,0) (126,0)};
\addplot[ci, line width=0.32mm, mark=none, forget plot] table[x=i, y=v] {\spxci};
\addplot[cism, line width=0.2mm, mark=none, forget plot] table[x=i, y=v] {\spxsm};
\addplot[red, line width=0.25mm, mark=none, forget plot, restrict x to domain=0:1] table[x=i, y=v] {\spxsm};
\addplot[red, line width=0.25mm, mark=none, forget plot, restrict x to domain=11.5:12.2] table[x=i, y=v] {\spxsm};
\addplot[hot, line width=0.4mm, mark=none, forget plot, restrict x to domain=36.8:52.6] table[x=i, y=v] {\spxsm};
\addplot[hot, line width=0.4mm, mark=none, forget plot, restrict x to domain=64.8:71.8] table[x=i, y=v] {\spxsm};
\addplot[hot, line width=0.4mm, mark=none, forget plot, restrict x to domain=75.8:77.8] table[x=i, y=v] {\spxsm};
\addplot[hot, line width=0.4mm, mark=none, forget plot, restrict x to domain=92.8:97.9] table[x=i, y=v] {\spxsm};
\addplot[hot, line width=0.4mm, mark=none, forget plot, restrict x to domain=106.6:118.9] table[x=i, y=v] {\spxsm};
\coordinate (b1) at (axis cs:128.0,25);
\coordinate (b2) at (axis cs:128.0,20);
\coordinate (b3) at (axis cs:128.0,1.14);
\coordinate (b4) at (axis cs:128.0,-2.29);
\coordinate (b5) at (axis cs:128.0,0);
\coordinate (b6) at (axis cs:128.0,-1.72);
\coordinate (b7) at (axis cs:128.0,-20);
\coordinate (b8) at (axis cs:128.0,-25);
\end{axis}

\begin{axis}[pane, at={(0.5mm,4mm)}, width=177.1mm, height=19.5mm,
  xmin=-0.43, xmax=126.16, ymin=0, ymax=1368.5,
  xtick={7,14,...,126},
  xticklabels={7/12,7/15,7/16,7/17,7/18,7/19,7/22,7/23,7/24,7/25,7/26,7/29,7/30,7/31,Aug,8/2,8/5,8/6},
  minor xtick={0,3.5,10.5,...,122.5}, xminorgrids, minor x grid style={vgrid, line width=0.1mm},
  xtick style={draw=red, line width=0.12mm}, tick align=outside, xtick pos=lower,
  major tick length=0.75mm, minor tick length=0.55mm,
  xticklabel style={anchor=north, inner sep=0pt, yshift=-0.6mm},
  ytick={600,1000}, yticklabels={{\dash600,000},{\dash1,000,000}},
  extra y ticks={200,400,800,1200}, extra y tick labels={\dash,\dash,\dash,\dash},
  yticklabel style={xshift=3.6mm}]
\vol{\spxv}{0.15mm}
\coordinate (c1) at (axis cs:128.0,218.588);
\end{axis}

% ================= RIGHT: SPY =================
\begin{axis}[pane, at={(192.5mm,112mm)}, width=175.8mm, height=82.7mm,
  xmin=-0.53, xmax=146.2, ymin=495.43, ymax=578.13,
  xtick={-1,2.5,...,146}, xticklabels={},
  ytick={500,510,...,570},
  yticklabel={\dash\pgfmathprintnumber[fixed,zerofill,precision=2]{\tick}},
  yticklabel style={xshift=3.45mm}]
\levels{\spylv}
\addplot[olv, line width=0.4mm, mark=none, forget plot] table[x=i, y=v] {\spyath};
\candles{\spyc}{0.65mm}{0.15}
\coordinate (d1) at (axis cs:148.4,575.29);
\coordinate (d2) at (axis cs:148.4,565.16);
\coordinate (d3) at (axis cs:148.4,549.02);
\coordinate (d4) at (axis cs:148.4,538.81);
\coordinate (d5) at (axis cs:148.4,522.75);
\coordinate (d6) at (axis cs:148.4,519.48);
\coordinate (d7) at (axis cs:148.4,512.54);
\coordinate (d8) at (axis cs:148.4,496.48);
\end{axis}

\begin{axis}[pane, at={(192.5mm,26.6mm)}, width=175.8mm, height=84.1mm,
  xmin=-0.53, xmax=146.2, ymin=-26.92, ymax=25.48,
  xtick={-1,2.5,...,146}, xticklabels={},
  ytick={-10,10},
  yticklabel={\dash\pgfmathprintnumber[fixed,zerofill,precision=2]{\tick}},
  yticklabel style={xshift=3.45mm}]
\addplot[lvred, line width=0.15mm, forget plot] coordinates {(0,25) (146,25)};
\addplot[lvred, line width=0.15mm, forget plot] coordinates {(0,20) (146,20)};
\addplot[dkg, line width=0.15mm, forget plot] coordinates {(0,-20) (146,-20)};
\addplot[dkg, line width=0.15mm, forget plot] coordinates {(0,-25) (146,-25)};
\allhist{\spyh}{0.42mm}
\addplot[yellow, line width=0.5mm, forget plot] coordinates {(0,0) (146,0)};
\addplot[ci, line width=0.32mm, mark=none, forget plot] table[x=i, y=ci] {\spyl};
\addplot[cism, line width=0.2mm, mark=none, forget plot] table[x=i, y=sm] {\spyl};
\addplot[red, line width=0.25mm, mark=none, forget plot, restrict x to domain=19:21] table[x=i, y=sm] {\spyl};
\addplot[hot, line width=0.4mm, mark=none, forget plot, restrict x to domain=58:72] table[x=i, y=sm] {\spyl};
\addplot[hot, line width=0.4mm, mark=none, forget plot, restrict x to domain=85:91] table[x=i, y=sm] {\spyl};
\addplot[hot, line width=0.4mm, mark=none, forget plot, restrict x to domain=96:98] table[x=i, y=sm] {\spyl};
\addplot[hot, line width=0.4mm, mark=none, forget plot, restrict x to domain=112:117] table[x=i, y=sm] {\spyl};
\addplot[hot, line width=0.4mm, mark=none, forget plot, restrict x to domain=127:139] table[x=i, y=sm] {\spyl};
\coordinate (e1) at (axis cs:148.4,25);
\coordinate (e2) at (axis cs:148.4,20);
\coordinate (e3) at (axis cs:148.4,0);
\coordinate (e4) at (axis cs:148.4,1.64);
\coordinate (e5) at (axis cs:148.4,0.20);
\coordinate (e6) at (axis cs:148.4,1.02);
\coordinate (e7) at (axis cs:148.4,-20);
\coordinate (e8) at (axis cs:148.4,-25);
\end{axis}

\begin{axis}[pane, at={(192.5mm,4mm)}, width=175.8mm, height=19.5mm,
  xmin=-0.53, xmax=146.2, ymin=0, ymax=28.26,
  xtick={6,13,...,146},
  xticklabels={7/9,7/10,7/11,7/12,7/15,7/16,7/17,7/18,7/19,7/22,7/23,7/24,7/25,7/26,7/29,7/30,7/31,Aug,8/2,8/5,8/6},
  minor xtick={-1,2.5,9.5,...,142.5}, xminorgrids, minor x grid style={vgrid, line width=0.1mm},
  xtick style={draw=red, line width=0.12mm}, tick align=outside, xtick pos=lower,
  major tick length=0.75mm, minor tick length=0.55mm,
  xticklabel style={anchor=north, inner sep=0pt, yshift=-0.6mm},
  ytick={5,15,25}, yticklabels={{\dash5,000,000},{\dash15,000,000},{\dash25,000,000}},
  extra y ticks={10,20}, extra y tick labels={\dash,\dash},
  yticklabel style={xshift=3.45mm}]
\vol{\spyv}{0.15mm}
\coordinate (f1) at (axis cs:148.4,3.538589);
\end{axis}

% ---- separators in the label columns ----
\draw[red, line width=0.15mm] (180.2mm,3.9mm) -- (180.2mm,194.5mm);
\draw[red, line width=0.15mm] (371.0mm,3.8mm) -- (371.0mm,194.5mm);
\draw[red, line width=0.2mm] (180.2mm,26.2mm) -- (191.3mm,26.2mm);
\draw[red, line width=0.2mm] (371.0mm,26.6mm) -- (383.5mm,26.6mm);
\draw[red, line width=0.2mm] (0.5mm,3.9mm) -- (191.3mm,3.9mm);
\draw[red, line width=0.2mm] (192.6mm,3.8mm) -- (383.5mm,3.8mm);

% ---- value tags ----
\node[lblL=lvred] at (a1) {5772};
\node[lblL=olvbox] at (a2) {5670};
\node[lblL=lvred] at (a3) {5508};
\node[lblL=lvyel] at (a4) {5405};
\node[lblL=boxgr] at (a5) {5244};
\node[lblL=boxgr] at (a6) {5209};
\node[lblL=boxgr] at (a7) {5141};
\node[lblL=boxgr] at (a8) {4980};
\node[lblL=lvred] at (b1) {25.00};
\node[lblL=lvred] at (b2) {20.00};
\node[lblL=boxwt] at (b3) {1.14};
\node[lblL=boxgy] at (b4) {-2.29};
\node[lblL=lvyel] at (b5) {0.00};
\node[lblL=ci] at (b6) {-1.72};
\node[lblL=boxdg] at (b7) {-20.00};
\node[lblL=boxdg] at (b8) {-25.00};
\node[lblL=lvyel] at (c1) {218,588};

\node[lblR=lvred] at (d1) {575.29};
\node[lblR=olvbox] at (d2) {565.16};
\node[lblR=lvred] at (d3) {549.02};
\node[lblR=lvyel] at (d4) {538.81};
\node[lblR=boxgr] at (d5) {522.75};
\node[lblR=boxgr] at (d6) {519.48};
\node[lblR=boxgr] at (d7) {512.54};
\node[lblR=boxgr] at (d8) {496.48};
\node[lblR=lvred] at (e1) {25.00};
\node[lblR=lvred] at (e2) {20.00};
\node[lblR=lvyel] at (e3) {0.00};
\node[lblR=boxwt] at (e4) {1.64};
\node[lblR=boxgy] at (e5) {0.20};
\node[lblR=ci] at (e6) {1.02};
\node[lblR=boxdg] at (e7) {-20.00};
\node[lblR=boxdg] at (e8) {-25.00};
\node[lblR=lvyel] at (f1) {3,538,589};

% ---- pane headers ----
\node[anchor=west, inner sep=0pt, font=\fs] at (0.6mm,195.2mm) {%
  \textcolor{white}{\$SPX.X - 60 min} \textcolor{txtg}{L=5,208.92 22.59 0.44\% O=5,206.42}
  \textcolor{white}{Hi=5,219.08 Lo=5,202.81 V=218,588 HA\_ATH} \textcolor{olv}{5,669.67}
  \textcolor{white}{HAPI\_SPR (Weekly)} \textcolor{red}{5,771.93 5,669.05 5,507.80}
  \textcolor{yellow}{5,404.\ldots}};
\node[anchor=west, inner sep=0pt, font=\fs] at (192.7mm,195.2mm) {%
  \textcolor{white}{SPY - 60 min} \textcolor{txtg}{L=519.48 2.10 0.41\% O=519.22}
  \textcolor{white}{Hi=520.54 Lo=518.70 V=6,662,763 HA\_ATH} \textcolor{olv}{565.16}
  \textcolor{white}{HAPI\_SPR (Weekly)} \textcolor{red}{575.29 565.08 549.02}
  \textcolor{yellow}{538.81} \textcolor{txtg}{522.75 512.54\ldots}};
\node[anchor=west, inner sep=0pt, font=\fs] at (0.6mm,115.2mm) {%
  \textcolor{white}{HAPI\_CI\_CI\_Diff\_CG} \textcolor{ci}{-1.72} \textcolor{cism}{-2.29}
  \textcolor{yellow}{0.00} \textcolor{red}{20.00} \textcolor{txtdg}{-20.00}
  \textcolor{red}{25.00} \textcolor{txtdg2}{-25.00} \textcolor{white}{1.14}};
\node[anchor=west, inner sep=0pt, font=\fs] at (192.7mm,111.2mm) {%
  \textcolor{white}{HAPI\_CI\_CI\_Diff\_CG} \textcolor{ci}{1.02} \textcolor{cism}{0.20}
  \textcolor{yellow}{0.00} \textcolor{red}{20.00} \textcolor{txtdg}{-20.00}
  \textcolor{red}{25.00} \textcolor{txtdg2}{-25.00} \textcolor{white}{1.64}};
\node[anchor=west, inner sep=0pt, font=\fs] at (0.6mm,24.7mm) {%
  \textcolor{white}{Volume} \textcolor{yellow}{218588.00}};
\node[anchor=west, inner sep=0pt, font=\fs] at (192.7mm,25.1mm) {%
  \textcolor{white}{Volume} \textcolor{yellow}{3538589.00}};
\end{tikzpicture}
\end{document}
